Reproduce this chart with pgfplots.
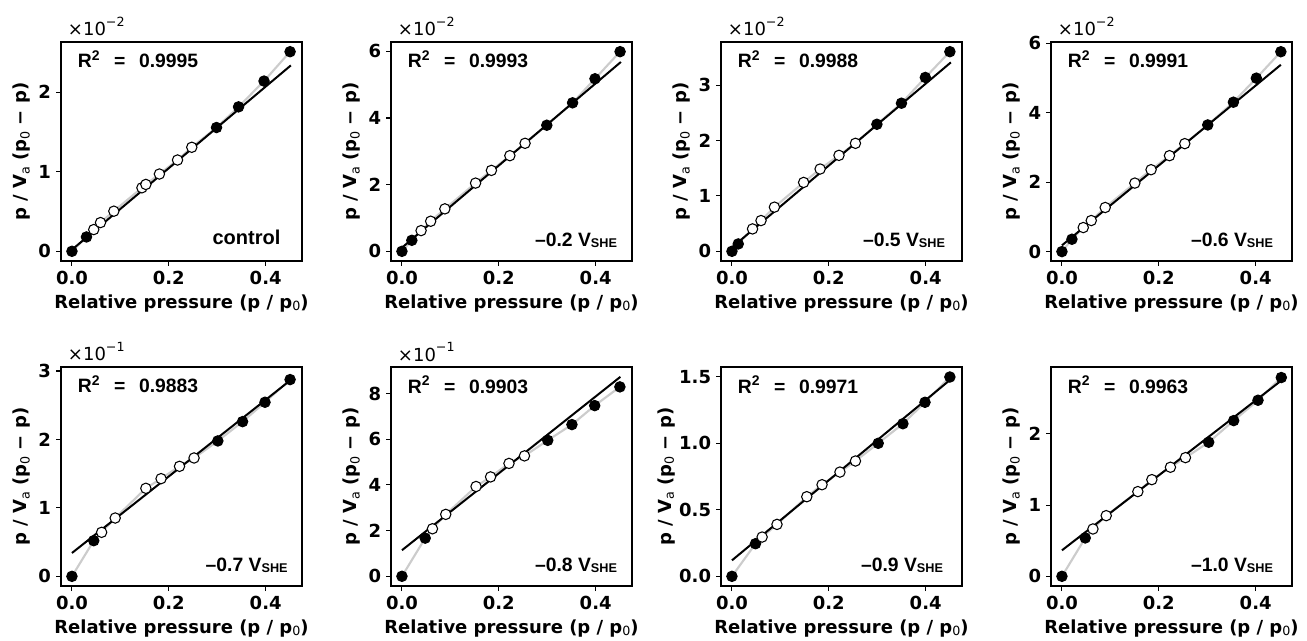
\documentclass[border=0pt]{standalone}
\usepackage{fontspec}
\setmainfont{DejaVu Sans}
\newfontfamily\dv{DejaVu Sans}
\newfontfamily\ar{Liberation Sans}
\usepackage{pgfplots}
\usepackage{pgfplotstable}
\pgfplotsset{compat=1.18}
\definecolor{lg}{RGB}{204,204,204}
\newcommand\lblfont{\dv\bfseries\fontsize{13.5}{16}\selectfont}
\newcommand\sub[1]{\raisebox{-0.3ex}{\fontsize{9.5}{10}\selectfont\mdseries #1}}
\newcommand\Rsq[1]{{\ar\bfseries\fontsize{14.5}{16}\selectfont R\raisebox{0.75ex}{\fontsize{10.5}{10}\selectfont 2}\hspace{0.75em}=\hspace{0.7em}#1}}
\newcommand\Vshe[1]{{\ar\bfseries\fontsize{14.5}{16}\selectfont #1 V{\fontsize{9.5}{10}\selectfont\raisebox{-0.2ex}{SHE}}}}
\newcommand\scl[1]{{\dv\fontsize{13.5}{14}\selectfont ×10\raisebox{1.0ex}{\fontsize{9.5}{10}\selectfont −#1}}}

\pgfplotstableread{
x y c
0 0 f
0.030 0.18 f
0.045 0.273 o
0.059 0.361 o
0.0865 0.504 o
0.1445 0.798 o
0.1526 0.840 o
0.1806 0.971 o
0.218 1.147 o
0.2474 1.307 o
0.2985 1.555 f
0.344 1.815 f
0.3966 2.139 f
0.4504 2.508 f
}\tA
\pgfplotstableread{
x y c
0 0 f
0.0204 0.331 f
0.0395 0.622 o
0.0593 0.903 o
0.0886 1.274 o
0.152 2.047 o
0.1847 2.428 o
0.2228 2.870 o
0.2542 3.241 o
0.2991 3.783 f
0.3523 4.455 f
0.3986 5.177 f
0.4504 5.99 f
}\tB
\pgfplotstableread{
x y c
0 0 f
0.013 0.133 f
0.0425 0.404 o
0.060 0.555 o
0.0877 0.797 o
0.148 1.243 o
0.182 1.485 o
0.221 1.732 o
0.255 1.949 o
0.2993 2.293 f
0.350 2.673 f
0.3993 3.138 f
0.450 3.603 f
}\tC
\pgfplotstableread{
x y c
0 0 f
0.0206 0.356 f
0.044 0.692 o
0.0605 0.894 o
0.0893 1.269 o
0.1505 1.971 o
0.184 2.356 o
0.222 2.76 o
0.2536 3.106 o
0.301 3.644 f
0.354 4.298 f
0.4014 4.99 f
0.452 5.75 f
}\tD
\pgfplotstableread{
x y c
0 0 f
0.045 0.521 f
0.0613 0.643 o
0.0893 0.852 o
0.1526 1.286 o
0.184 1.427 o
0.2221 1.607 o
0.2521 1.729 o
0.3012 1.978 f
0.3523 2.26 f
0.3986 2.543 f
0.4504 2.874 f
}\tE
\pgfplotstableread{
x y c
0 0 f
0.048 1.67 f
0.063 2.08 o
0.0904 2.71 o
0.153 3.93 o
0.183 4.35 o
0.221 4.94 o
0.253 5.27 o
0.301 5.95 f
0.351 6.64 f
0.398 7.47 f
0.450 8.29 f
}\tF
\pgfplotstableread{
x y c
0 0 f
0.0486 0.245 f
0.0623 0.295 o
0.093 0.39 o
0.1545 0.598 o
0.186 0.688 o
0.223 0.783 o
0.255 0.866 o
0.302 0.999 f
0.353 1.146 f
0.3986 1.307 f
0.450 1.497 f
}\tG
\pgfplotstableread{
x y c
0 0 f
0.0481 0.539 f
0.064 0.665 o
0.0914 0.852 o
0.1567 1.19 o
0.1856 1.358 o
0.224 1.532 o
0.255 1.667 o
0.303 1.883 f
0.3546 2.187 f
0.4048 2.473 f
0.4529 2.792 f
}\tH

\pgfplotsset{
  bet/.style={
    width=180.75pt, height=164.25pt, scale only axis,
    anchor=south west,
    xmin=-0.0226, xmax=0.475,
    xtick={0,0.2,0.4},
    xticklabel style={/pgf/number format/.cd, fixed, fixed zerofill, precision=1},
    tick pos=left, tick align=outside,
    major tick length=3.75pt,
    tick style={line width=0.8pt, black},
    every axis/.append style={line width=0.8pt},
    ticklabel style={font=\dv\bfseries\fontsize{13.5}{14}\selectfont},
    /pgf/number format/assume math mode=true,
    xlabel={Relative pressure (p / p\sub{0})},
    ylabel={p / V\sub{a} (p\sub{0} − p)},
    every axis x label/.style={at={(axis description cs:0.5,-0.192)}, anchor=center, font=\lblfont},
    every axis y label/.style={at={(axis description cs:-0.163,0.5)}, rotate=90, anchor=center, font=\lblfont},
    clip mode=individual,
  },
  grayline/.style={lg, line width=1.6pt, no markers},
  fitline/.style={black, line width=1.5pt, no markers},
  pts/.style={scatter, only marks, scatter src=explicit symbolic, mark size=3.9pt,
    scatter/classes={f={mark=*, draw=black, fill=black, line width=0.8pt},
                     o={mark=*, draw=black, fill=white, line width=0.8pt}}},
}

\begin{document}
\begin{tikzpicture}
\path[use as bounding box] (0,0) rectangle (980.25pt,-480.75pt);

% ---------- top row ----------
\begin{axis}[bet, at={(45.75pt,-195.75pt)}, ymin=-0.122, ymax=2.63, ytick={0,1,2}]
\addplot[grayline] table[x=x,y=y] {\tA};
\addplot[fitline] coordinates {(0,0.02) (0.452,2.336)};
\addplot[pts] table[x=x,y=y,meta=c] {\tA};
\node[anchor=base west] at (rel axis cs:0,1) [xshift=1.5pt, yshift=4.5pt] {\scl{2}};
\node[anchor=base west] at (rel axis cs:0,1) [xshift=9pt, yshift=-19.5pt] {\Rsq{0.9995}};
\node[anchor=base east] at (rel axis cs:1,0) [xshift=-12.5pt, yshift=12pt] {{\ar\bfseries\fontsize{15}{16}\selectfont control}};
\end{axis}

\begin{axis}[bet, at={(293.25pt,-195.75pt)}, ymin=-0.29, ymax=6.28, ytick={0,2,4,6}]
\addplot[grayline] table[x=x,y=y] {\tB};
\addplot[fitline] coordinates {(0,0.11) (0.452,5.68)};
\addplot[pts] table[x=x,y=y,meta=c] {\tB};
\node[anchor=base west] at (rel axis cs:0,1) [xshift=1.5pt, yshift=4.5pt] {\scl{2}};
\node[anchor=base west] at (rel axis cs:0,1) [xshift=9pt, yshift=-19.5pt] {\Rsq{0.9993}};
\node[anchor=base east] at (rel axis cs:1,0) [xshift=-7.5pt, yshift=11pt] {\Vshe{–0.2}};
\end{axis}

\begin{axis}[bet, at={(540.75pt,-195.75pt)}, ymin=-0.175, ymax=3.778, ytick={0,1,2,3}]
\addplot[grayline] table[x=x,y=y] {\tC};
\addplot[fitline] coordinates {(0,0.07) (0.452,3.41)};
\addplot[pts] table[x=x,y=y,meta=c] {\tC};
\node[anchor=base west] at (rel axis cs:0,1) [xshift=1.5pt, yshift=4.5pt] {\scl{2}};
\node[anchor=base west] at (rel axis cs:0,1) [xshift=9pt, yshift=-19.5pt] {\Rsq{0.9988}};
\node[anchor=base east] at (rel axis cs:1,0) [xshift=-9pt, yshift=11pt] {\Vshe{–0.5}};
\end{axis}

\begin{axis}[bet, at={(788.25pt,-195.75pt)}, ymin=-0.27, ymax=6.03, ytick={0,2,4,6}]
\addplot[grayline] table[x=x,y=y] {\tD};
\addplot[fitline] coordinates {(0,0.18) (0.452,5.375)};
\addplot[pts] table[x=x,y=y,meta=c] {\tD};
\node[anchor=base west] at (rel axis cs:0,1) [xshift=1.5pt, yshift=4.5pt] {\scl{2}};
\node[anchor=base west] at (rel axis cs:0,1) [xshift=9pt, yshift=-19.5pt] {\Rsq{0.9991}};
\node[anchor=base east] at (rel axis cs:1,0) [xshift=-10.5pt, yshift=11pt] {\Vshe{–0.6}};
\end{axis}

% ---------- bottom row ----------
\begin{axis}[bet, at={(45.75pt,-439.5pt)}, ymin=-0.141, ymax=3.058, ytick={0,1,2,3}]
\addplot[grayline] table[x=x,y=y] {\tE};
\addplot[fitline] coordinates {(0,0.341) (0.451,2.864)};
\addplot[pts] table[x=x,y=y,meta=c] {\tE};
\node[anchor=base west] at (rel axis cs:0,1) [xshift=1.5pt, yshift=4.5pt] {\scl{1}};
\node[anchor=base west] at (rel axis cs:0,1) [xshift=9pt, yshift=-19.5pt] {\Rsq{0.9883}};
\node[anchor=base east] at (rel axis cs:1,0) [xshift=-7pt, yshift=11pt] {\Vshe{–0.7}};
\end{axis}

\begin{axis}[bet, at={(293.25pt,-439.5pt)}, ymin=-0.425, ymax=9.16, ytick={0,2,4,6,8}]
\addplot[grayline] table[x=x,y=y] {\tF};
\addplot[fitline] coordinates {(0,1.14) (0.451,8.73)};
\addplot[pts] table[x=x,y=y,meta=c] {\tF};
\node[anchor=base west] at (rel axis cs:0,1) [xshift=1.5pt, yshift=4.5pt] {\scl{1}};
\node[anchor=base west] at (rel axis cs:0,1) [xshift=9pt, yshift=-19.5pt] {\Rsq{0.9903}};
\node[anchor=base east] at (rel axis cs:1,0) [xshift=-7.5pt, yshift=11pt] {\Vshe{–0.8}};
\end{axis}

\begin{axis}[bet, at={(540.75pt,-439.5pt)}, ymin=-0.0726, ymax=1.572, ytick={0,0.5,1,1.5},
  yticklabel style={/pgf/number format/.cd, fixed, fixed zerofill, precision=1},
  every axis y label/.style={at={(axis description cs:-0.228,0.5)}, rotate=90, anchor=center, font=\lblfont}]
\addplot[grayline] table[x=x,y=y] {\tG};
\addplot[fitline] coordinates {(0,0.12) (0.451,1.477)};
\addplot[pts] table[x=x,y=y,meta=c] {\tG};
\node[anchor=base west] at (rel axis cs:0,1) [xshift=9pt, yshift=-19.5pt] {\Rsq{0.9971}};
\node[anchor=base east] at (rel axis cs:1,0) [xshift=-10.5pt, yshift=11pt] {\Vshe{–0.9}};
\end{axis}

\begin{axis}[bet, at={(788.25pt,-439.5pt)}, ymin=-0.136, ymax=2.94, ytick={0,1,2}]
\addplot[grayline] table[x=x,y=y] {\tH};
\addplot[fitline] coordinates {(0,0.365) (0.452,2.745)};
\addplot[pts] table[x=x,y=y,meta=c] {\tH};
\node[anchor=base west] at (rel axis cs:0,1) [xshift=9pt, yshift=-19.5pt] {\Rsq{0.9963}};
\node[anchor=base east] at (rel axis cs:1,0) [xshift=-10.5pt, yshift=11pt] {\Vshe{–1.0}};
\end{axis}
\end{tikzpicture}
\end{document}
